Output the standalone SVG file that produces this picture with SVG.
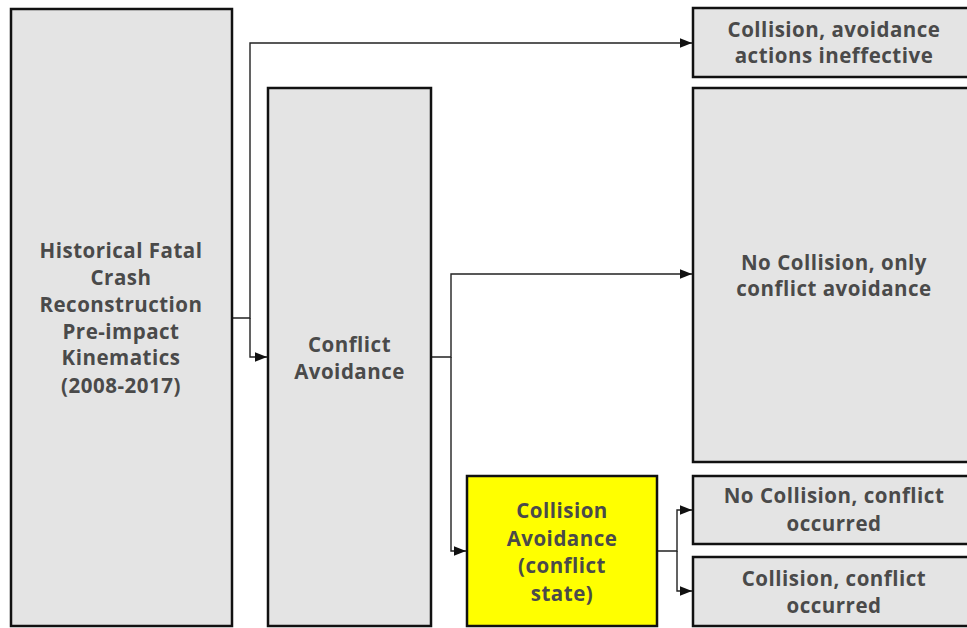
<svg xmlns="http://www.w3.org/2000/svg" width="967" height="628" viewBox="0 0 967 628">
<defs>
<style>
.box{fill:#e4e4e4;stroke:#111;stroke-width:2.5}
.hl{fill:#ffff00;stroke:#111;stroke-width:2.5}
.t{font-family:"Open Sans","Liberation Sans",sans-serif;font-weight:700;font-size:20.5px;letter-spacing:0.5px;fill:#4a4a4a;text-anchor:middle}
.c{fill:none;stroke:#222;stroke-width:1.4}
</style>
<marker id="ah" viewBox="0 0 10 10" refX="10" refY="5" markerWidth="12" markerHeight="12" markerUnits="userSpaceOnUse" orient="auto">
<path d="M0,1 L10,5 L0,9 z" fill="#111"/>
</marker>
</defs>
<rect width="967" height="628" fill="#fff"/>
<g id="connectors">
<path class="c" d="M232,318 H250 V43 H692" marker-end="url(#ah)"/>
<path class="c" d="M250,318 V357 H267" marker-end="url(#ah)"/>
<path class="c" d="M431,357 H451 V274 H692" marker-end="url(#ah)"/>
<path class="c" d="M451,357 V551 H466" marker-end="url(#ah)"/>
<path class="c" d="M657,551 H677 V510 H692" marker-end="url(#ah)"/>
<path class="c" d="M677,551 V591 H692" marker-end="url(#ah)"/>
</g>
<g id="historical">
<rect class="box" x="11" y="9" width="221" height="617"/>
<text class="t"><tspan x="121" y="258">Historical Fatal</tspan><tspan x="121" y="285">Crash</tspan><tspan x="121" y="312">Reconstruction</tspan><tspan x="121" y="339">Pre-impact</tspan><tspan x="121" y="365">Kinematics</tspan><tspan x="121" y="393">(2008-2017)</tspan></text>
</g>
<g id="conflict">
<rect class="box" x="268" y="88" width="163" height="538"/>
<text class="t"><tspan x="349.5" y="352">Conflict</tspan><tspan x="349.5" y="379">Avoidance</tspan></text>
</g>
<g id="collision-avoidance">
<rect class="hl" x="467" y="476" width="190" height="150"/>
<text class="t"><tspan x="562" y="518">Collision</tspan><tspan x="562" y="546">Avoidance</tspan><tspan x="562" y="573">(conflict</tspan><tspan x="562" y="601">state)</tspan></text>
</g>
<g id="collision-ineffective">
<rect class="box" x="693" y="8" width="285" height="69"/>
<text class="t"><tspan x="834" y="37">Collision, avoidance</tspan><tspan x="834" y="63">actions ineffective</tspan></text>
</g>
<g id="no-collision-only">
<rect class="box" x="693" y="88" width="285" height="374"/>
<text class="t"><tspan x="834" y="270">No Collision, only</tspan><tspan x="834" y="296">conflict avoidance</tspan></text>
</g>
<g id="no-collision-occurred">
<rect class="box" x="693" y="476" width="285" height="68"/>
<text class="t"><tspan x="834" y="503">No Collision, conflict</tspan><tspan x="834" y="531">occurred</tspan></text>
</g>
<g id="collision-occurred">
<rect class="box" x="693" y="557" width="285" height="69"/>
<text class="t"><tspan x="834" y="586">Collision, conflict</tspan><tspan x="834" y="613">occurred</tspan></text>
</g>
</svg>
